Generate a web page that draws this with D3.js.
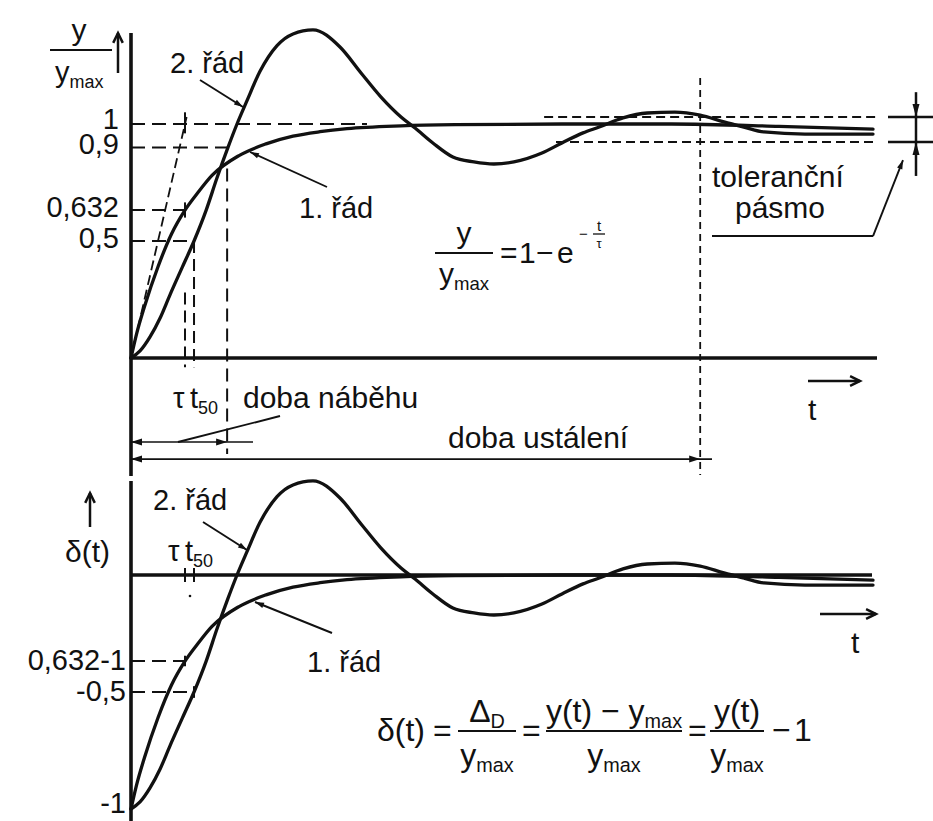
<!DOCTYPE html>
<html><head><meta charset="utf-8">
<script src="https://cdn.jsdelivr.net/npm/d3@7"></script>
<style>
html,body{margin:0;padding:0;background:#fff;}
svg{display:block;}
text{font-family:"Liberation Sans",Arial,Helvetica,sans-serif;fill:#111;}
</style>
</head><body>
<svg id="c" width="933" height="821"></svg>
<script>
// ---------- data (t in units of tau, response y/ymax) ----------
const tFirst = [0,0.1,0.25,0.5,0.75,1,1.25,1.5,2,2.5,3,3.5,4,5,6,8,10,12,13.74];
const yFirst = [0,0.1,0.22,0.39,0.53,0.632,0.71,0.78,0.865,0.915,0.948,0.967,0.98,0.992,0.997,1.0,1.0,0.99,0.978];
const tSecond = [0,0.167,0.352,0.537,0.722,0.944,1.167,1.389,1.593,1.796,1.963,2.148,2.389,2.704,3.0,3.37,3.87,4.26,4.63,5.0,5.26,5.59,5.96,6.35,6.72,7.09,7.61,7.98,8.37,8.67,9.11,9.56,10.07,10.54,10.98,11.35,11.72,12.48,13.22,13.74];
const ySecond = [0,0.03,0.09,0.17,0.27,0.385,0.5,0.63,0.77,0.9,1.0,1.10,1.225,1.335,1.385,1.402,1.329,1.218,1.115,1.03,0.983,0.919,0.859,0.838,0.829,0.838,0.876,0.919,0.962,0.987,1.026,1.047,1.051,1.038,1.009,0.987,0.966,0.957,0.957,0.957];
const topTickValues = [1,0.9,0.632,0.5];
const topTickLabels = ["1","0,9","0,632","0,5"];
const botTickValues = [-0.368,-0.5,-1];
const botTickLabels = ["0,632-1","-0,5","-1"];
const tau = 1, t50 = 1.167, tRise = 1.78, tSettle = 10.54;
const bandUpper = 1.030, bandLower = 0.923;

// ---------- setup ----------
const INK = "#111";
const svg = d3.select("#c");
const g = svg.append("g");
const x  = d3.scaleLinear().domain([0,13.74]).range([131,873]);
const yT = d3.scaleLinear().domain([0,1]).range([358,124]);
const yB = d3.scaleLinear().domain([-1,0]).range([809,575]);

function seg(x1,y1,x2,y2,w,dash){
  const l = g.append("line").attr("x1",x1).attr("y1",y1).attr("x2",x2).attr("y2",y2)
    .attr("stroke",INK).attr("stroke-width",w||2).attr("stroke-linecap","butt");
  if(dash) l.attr("stroke-dasharray",dash);
  return l;
}
function tri(xt,yt,ang,len,half){
  const a = ang*Math.PI/180, ux=Math.cos(a), uy=Math.sin(a);
  const bx = xt-ux*len, by = yt-uy*len;
  g.append("path").attr("d",`M${xt},${yt}L${bx-uy*half},${by+ux*half}L${bx+uy*half},${by-ux*half}Z`).attr("fill",INK);
}
function pointer(x1,y1,x2,y2){
  seg(x1,y1,x2,y2,1.9);
  const ang = Math.atan2(y2-y1,x2-x1)*180/Math.PI;
  tri(x2,y2,ang,9,2.8);
}
function vArrow(x1,y1,x2,y2){
  seg(x1,y1,x2,y2,2.5);
  const a = Math.atan2(y2-y1,x2-x1), L=11, s=0.45;
  const p1=[x2-L*Math.cos(a-s), y2-L*Math.sin(a-s)], p2=[x2-L*Math.cos(a+s), y2-L*Math.sin(a+s)];
  g.append("path").attr("d",`M${p1[0]},${p1[1]}L${x2},${y2}L${p2[0]},${p2[1]}`)
    .attr("fill","none").attr("stroke",INK).attr("stroke-width",2.5).attr("stroke-linejoin","miter");
}
function mtext(px,py,parts,size,anchor){
  const t = g.append("text").attr("x",px).attr("y",py).attr("font-size",size).attr("text-anchor",anchor||"start");
  let shift = 0;
  parts.forEach(p=>{
    if(p.sub){
      t.append("tspan").attr("font-size",size*0.62).attr("dy",(size*0.2 - shift)).text(p.t);
      shift = size*0.2;
    } else {
      t.append("tspan").attr("dy",-shift).text(p.t);
      shift = 0;
    }
  });
  return t;
}
const yMax = [{t:"y"},{t:"max",sub:true}];

// ---------- curves ----------
const first = tFirst.map((t,i)=>[t,yFirst[i]]);
const second = tSecond.map((t,i)=>[t,ySecond[i]]);
const lineTop = d3.line().x(d=>x(d[0])).y(d=>yT(d[1])).curve(d3.curveMonotoneX);
const lineBot = d3.line().x(d=>x(d[0])).y(d=>yB(d[1]-1)).curve(d3.curveMonotoneX);
const CW = 3.3;

// ================= TOP PANEL =================
const LD = "14,7";
seg(x(0),yT(1),x(4.37),yT(1),2,LD);
seg(x(0),yT(0.9),x(1.83),yT(0.9),2,LD);
seg(x(0),yT(0.632),x(tau),yT(0.632),2,LD);
seg(x(0),yT(0.5),x(t50),yT(0.5),2,LD);
seg(x(0),yT(0),x(1.03),yT(1.03),1.8,"10,5");           // tangent
seg(x(tau),yT(1.05),x(tau),yT(0.96),2);                 // tau tick at 1
seg(x(tau),yT(0.665),x(tau),yT(0.6),2);                 // tau tick at 0.632
seg(x(tau),yT(0.28),x(tau),yT(-0.04),2,"12,6");
seg(x(t50),yT(0.5),x(t50),yT(-0.04),2,"12,6");
seg(x(tRise),yT(0.81),x(tRise),yT(-0.41),2,"13,7");
seg(x(tSettle),yT(1.197),x(tSettle),yT(-0.50),1.8,"7,5");
// tolerance band
seg(x(7.65),yT(bandUpper),x(13.82),yT(bandUpper),2,"9,5");
seg(x(7.87),yT(bandLower),x(13.82),yT(bandLower),2,"9,5");
seg(888,yT(bandUpper),933,yT(bandUpper),2.5);
seg(888,yT(bandLower),933,yT(bandLower),2.5);
seg(916,yT(1.136),916,yT(0.778),2.5);
tri(916,yT(bandUpper),90,13,3.5);
tri(916,yT(bandLower),-90,13,3.5);
seg(712,yT(0.521),873,yT(0.521),2);
pointer(873,yT(0.521),903,yT(0.846));

// axes
seg(x(0),33,x(0),476,3.6);
seg(x(0),yT(0),877,yT(0),3.3);
// curves
g.append("path").attr("d",lineTop(first)).attr("fill","none").attr("stroke",INK).attr("stroke-width",CW).attr("stroke-linecap","round");
g.append("path").attr("d",lineTop(second)).attr("fill","none").attr("stroke",INK).attr("stroke-width",CW).attr("stroke-linecap","round");

// tick labels via d3 axis
const axT = d3.axisLeft(yT).tickValues(topTickValues).tickSize(0).tickPadding(12)
  .tickFormat((d,i)=>topTickLabels[i]);
const gT = svg.append("g").attr("transform",`translate(${x(0)},0)`).call(axT);
gT.select(".domain").remove();
gT.selectAll("text").attr("font-size",29).attr("font-family","Liberation Sans, Arial, sans-serif").attr("fill",INK)
  .attr("dy",(d)=> d===1 ? "0.15em" : "0.22em");

// y/ymax label
mtext(79,40,[{t:"y"}],30,"middle");
seg(50,50,112,50,2);
mtext(55,82,yMax,29,"start");
vArrow(118,73,118,33);

// curve labels
mtext(170,73,[{t:"2. řád"}],29);
pointer(200,80,243,107);
mtext(299,218,[{t:"1. řád"}],29);
pointer(327,187,250,152);

// formula y/ymax = 1 - e^{-t/tau}
mtext(464,243,[{t:"y"}],30,"middle");
seg(435,253,493,253,2);
mtext(464,284,yMax,30,"middle");
mtext(500,263,[{t:"="}],30);
mtext(519,263,[{t:"1"}],30);
mtext(536,263,[{t:"−"}],30);
mtext(557,263,[{t:"e"}],30);
mtext(579,239,[{t:"−"}],15);
mtext(599,231,[{t:"t"}],15,"middle");
seg(593,234,605,234,1.3);
mtext(599,248,[{t:"τ"}],13,"middle");

mtext(712,187,[{t:"toleranční"}],30);
mtext(735,218,[{t:"pásmo"}],30);

vArrow(808,381,860,381);
mtext(808,420,[{t:"t"}],30);

mtext(173,408,[{t:"τ"}],29);
mtext(190,408,[{t:"t"},{t:"50",sub:true}],29);
mtext(243,408,[{t:"doba náběhu"}],30);
const yR = yT(-0.359);
seg(x(0),yR,253,yR,1.6);
tri(x(0),yR,180,11,3.5);
tri(x(tRise),yR,0,11,3.5);
seg(178,yR,280,yT(-0.248),1.9);
const yS = yT(-0.432);
seg(x(0),yS,712,yS,1.6);
tri(x(0),yS,180,11,3.5);
tri(x(tSettle),yS,0,11,3.5);
mtext(448,448,[{t:"doba ustálení"}],30);

// ================= BOTTOM PANEL =================
seg(x(0),481,x(0),821,3.6);
seg(x(0),yB(0),872,yB(0),3.3);
seg(x(0),yB(-0.368),x(tau),yB(-0.368),2,LD);
seg(x(0),yB(-0.5),x(t50),yB(-0.5),2,LD);
seg(x(tau),yB(-0.345),x(tau),yB(-0.39),2);
seg(x(t50),yB(-0.475),x(t50),yB(-0.525),2);
seg(x(tau),yB(0.03),x(tau),yB(-0.03),2);
seg(x(t50),yB(0.03),x(t50),yB(-0.03),2);
g.append("circle").attr("cx",190).attr("cy",596).attr("r",1.3).attr("fill",INK);

g.append("path").attr("d",lineBot(first)).attr("fill","none").attr("stroke",INK).attr("stroke-width",CW).attr("stroke-linecap","round");
g.append("path").attr("d",lineBot(second)).attr("fill","none").attr("stroke",INK).attr("stroke-width",CW).attr("stroke-linecap","round");

const axB = d3.axisLeft(yB).tickValues(botTickValues).tickSize(0).tickPadding(5)
  .tickFormat((d,i)=>botTickLabels[i]);
const gB = svg.append("g").attr("transform",`translate(${x(0)},0)`).call(axB);
gB.select(".domain").remove();
gB.selectAll("text").attr("font-size",29).attr("font-family","Liberation Sans, Arial, sans-serif").attr("fill",INK)
  .attr("dy",(d)=> d===-1 ? "0.12em" : "0.28em");

vArrow(90,527,90,493);
mtext(65,562,[{t:"δ(t)"}],30);
mtext(153,510,[{t:"2. řád"}],29);
pointer(203,522,247,550);
mtext(168,561,[{t:"τ"}],29);
mtext(185,561,[{t:"t"},{t:"50",sub:true}],29);
mtext(307,672,[{t:"1. řád"}],29);
pointer(332,633,255,602);
vArrow(820,614,876,614);
mtext(851,653,[{t:"t"}],30);

// bottom formula
const FS = 32, fb = 741, fl = 731, fn = 722, fd = 766;
mtext(377,fb,[{t:"δ(t)"}],FS);
mtext(433,fb,[{t:"="}],FS);
seg(458,fl,516,fl,2);
mtext(487,fn,[{t:"Δ"},{t:"D",sub:true}],FS,"middle");
mtext(487,fd,yMax,FS,"middle");
mtext(522,fb,[{t:"="}],FS);
seg(546,fl,682,fl,2);
mtext(614,fn,[{t:"y(t) − y"},{t:"max",sub:true}],FS,"middle");
mtext(614,fd,yMax,FS,"middle");
mtext(688,fb,[{t:"="}],FS);
seg(710,fl,764,fl,2);
mtext(737,fn,[{t:"y(t)"}],FS,"middle");
mtext(737,fd,yMax,FS,"middle");
mtext(772,fb,[{t:"−"}],FS);
mtext(794,fb,[{t:"1"}],FS);
</script>
</body></html>
